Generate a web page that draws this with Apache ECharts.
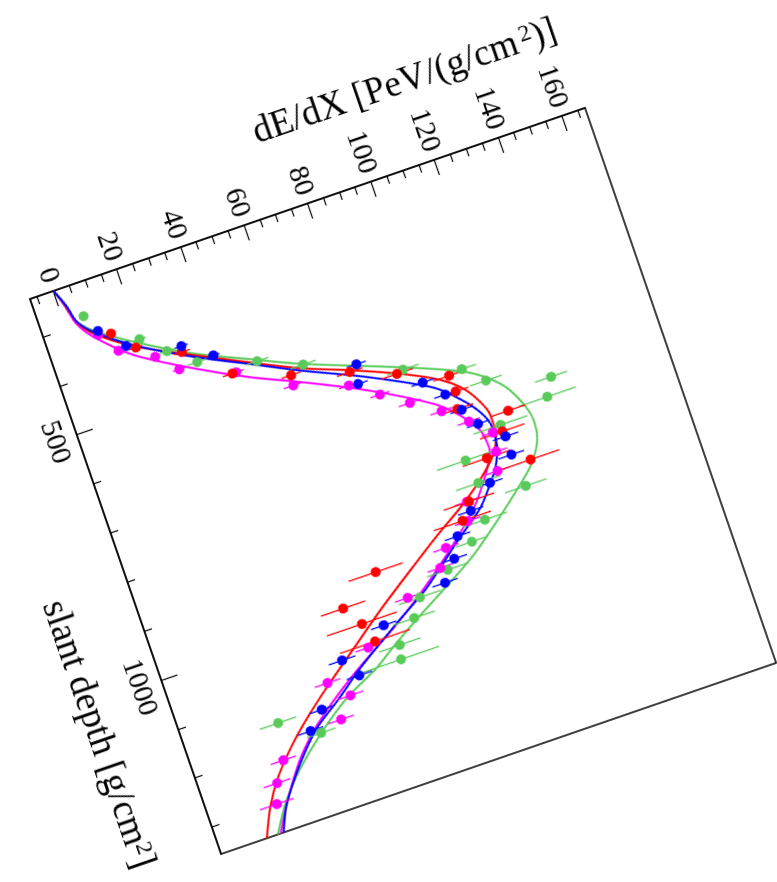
<!DOCTYPE html>
<html><head><meta charset="utf-8">
<script src="https://cdn.jsdelivr.net/npm/echarts@6/dist/echarts.min.js"></script>
<style>
html,body{margin:0;padding:0;background:#fff;overflow:hidden;width:777px;height:882px;}
#wrap{position:absolute;left:-90px;top:-348px;width:760px;height:790px;transform-origin:120px 647px;transform:rotate(71deg);}
#chart{width:760px;height:790px;}
</style></head><body>
<div id="wrap"><div id="chart"></div></div>
<script>
// ---- axis ranges & ticks ----
const xMin = 223, xMax = 1355;
const yMin = -7.4, yMax = 167.3;
const xTicksMajor = [500, 1000];
const xTicksMinor = [300, 400, 600, 700, 800, 900, 1100, 1200, 1300];
const yTicksMajor = [0, 20, 40, 60, 80, 100, 120, 140, 160];
const yTicksMinor = [-5, 5, 10, 15, 25, 30, 35, 45, 50, 55, 65, 70, 75, 85, 90, 95, 105, 110, 115, 125, 130, 135, 145, 150, 155, 165];
const xTitle = 'slant depth [g/cm';
const yTitle = 'dE/dX [PeV/(g/cm';

// ---- green ----
const greenX   = [288, 365, 404, 443, 479, 514, 586, 622, 658, 692, 726, 748, 791, 840, 875, 911, 943, 979, 1012, 1046, 1086, 1113, 1152, 1197];
const greenY   = [6.0, 19.5, 26.1, 33.5, 50.5, 63.1, 90.7, 107.3, 113.0, 131.7, 128.7, 112.8, 99.5, 100.9, 114.0, 99.2, 93.4, 83.9, 73.4, 69.8, 63.1, 62.1, 21.3, 32.5];
const greenErr = [1.5, 2, 2.5, 3, 3.5, 4, 5, 4.5, 5, 5, 9, 8.5, 9, 7, 6.5, 7, 5, 6.5, 6.6, 6.5, 6.5, 12, 5.7, 4.5];
const greenCurveX = [223, 260, 294, 320, 366, 425, 471, 511, 580, 631, 673, 716, 761, 800, 840, 880, 931, 973, 1012, 1046, 1086, 1113, 1150, 1200, 1250, 1300, 1355];
const greenCurveY = [0, 2.2, 3.6, 7.4, 17.6, 33.3, 48.7, 62.4, 90.2, 108.5, 116.8, 120.8, 122.6, 121.6, 117.5, 110.5, 100.5, 91.5, 81, 71.5, 61, 54.5, 43, 32, 23, 16, 10.5];

// ---- red ----
const redX   = [337, 378, 415, 486, 526, 557, 590, 626, 659, 692, 727, 761, 800, 830, 868, 899, 938, 984, 1024, 1064];
const redY   = [12.0, 17.7, 30.2, 42.3, 58.7, 75.5, 88.6, 103.1, 103.4, 102.2, 116.3, 112.7, 105.7, 117.9, 96.5, 92.8, 63.4, 50.7, 54.5, 56.5];
const redErr = [1.5, 2, 2.5, 3, 3, 4, 5, 5, 4, 5, 5.5, 7, 7.5, 9, 8, 9, 8.5, 7, 11, 11];
const redCurveX = [223, 260, 294, 326, 374, 428, 477, 519, 554, 592, 628, 659, 694, 725, 755, 786, 807, 841, 873, 909, 945, 1006, 1065, 1116, 1160, 1200, 1250, 1300, 1355];
const redCurveY = [0, 2, 3.5, 7.1, 17.2, 33.2, 48.4, 62, 75.8, 89.6, 100.2, 105.9, 109.4, 110.9, 110.9, 109, 106.6, 100.6, 93.6, 84.5, 76, 62, 49.5, 38.8, 30.2, 23.3, 16.2, 11, 7];

// ---- blue ----
const blueX   = [324, 369, 404, 441, 547, 584, 622, 658, 696, 732, 772, 809, 847, 886, 924, 963, 1001, 1040, 1078, 1116, 1155, 1187];
const blueY   = [8.6, 15.1, 30.6, 38.7, 78.1, 76.7, 95.0, 100.2, 103.3, 106.6, 113.1, 113.0, 104.2, 96.1, 89.9, 86.8, 81.9, 60.5, 45.4, 48.8, 34.9, 29.7];
const blueErr = [1.2, 1.5, 2, 2, 3, 3, 3.5, 3.5, 3.5, 3.5, 4, 4, 4, 4, 4, 4, 4, 4, 4.2, 4, 4, 4];
const blueCurveX = [223, 260, 294, 323, 372, 431, 480, 523, 577, 638, 676, 713, 747, 787, 822, 839, 886, 930, 968, 1000, 1048, 1102, 1148, 1184, 1224, 1272, 1310, 1355];
const blueCurveY = [0, 2.2, 3.6, 7.3, 17.2, 33, 48.3, 61.7, 79.9, 97.6, 104, 108.4, 110.2, 109.7, 107.3, 105.4, 99.2, 90, 82.5, 76, 63.5, 50.1, 40.3, 32.1, 25.8, 19.6, 15.5, 12.3];

// ---- magenta ----
const magentaX   = [331, 373, 407, 445, 486, 546, 581, 617, 651, 686, 722, 757, 794, 830, 867, 903, 938, 971, 1005, 1071, 1110, 1147, 1185, 1223, 1261, 1299];
const magentaY   = [8.2, 12.5, 22.2, 27.8, 43.5, 58.3, 73.9, 81.8, 89.4, 97.5, 104.2, 109.9, 109.0, 107.5, 95.9, 94.2, 85.5, 82.0, 69.9, 54.0, 39.1, 44.4, 39.4, 19.2, 15.2, 13.1];
const magentaErr = [1.2, 1.5, 1.5, 2, 2.5, 3, 3, 3, 3.5, 3.5, 3.5, 3.5, 3.5, 3.5, 4, 4, 4, 4, 4, 4, 4, 4, 4, 4, 4.2, 5.3];
const magentaCurveX = [223, 260, 298, 332, 390, 452, 504, 544, 601, 668, 706, 746, 782, 817, 839, 882, 926, 964, 1010, 1050, 1114, 1178, 1228, 1277, 1321, 1355];
const magentaCurveY = [0, 1.8, 3.3, 6.8, 16.3, 31.9, 47, 60.6, 78.6, 96.1, 102.4, 106.6, 107.4, 105, 102.7, 97.4, 89.8, 82.5, 72.8, 63.3, 46.5, 32.5, 24.5, 18.8, 14.4, 11.4];

const FONT = 'Liberation Serif';
const groups = [
  {name:'green',   color:'#5acb5a', x:greenX, y:greenY, e:greenErr, cx:greenCurveX, cy:greenCurveY},
  {name:'magenta', color:'#ff00ff', x:magentaX, y:magentaY, e:magentaErr, cx:magentaCurveX, cy:magentaCurveY},
  {name:'red',     color:'#ff0000', x:redX, y:redY, e:redErr, cx:redCurveX, cy:redCurveY},
  {name:'blue',    color:'#0000ff', x:blueX, y:blueY, e:blueErr, cx:blueCurveX, cy:blueCurveY}
];

function errRender(params, api){
  const x = api.value(0), y = api.value(1), e = api.value(2);
  const p1 = api.coord([x, y - e]), p2 = api.coord([x, y + e]);
  return {type:'line', shape:{x1:p1[0], y1:p1[1], x2:p2[0], y2:p2[1]},
          style:{stroke:api.visual('color'), lineWidth:1.3}};
}

const series = [];
groups.forEach(g => {
  series.push({type:'line', name:g.name+' fit', data:g.cx.map((v,i)=>[v, g.cy[i]]),
    smooth:0.3, showSymbol:false, symbol:'none', lineStyle:{color:g.color, width:2}, z:2, silent:true});
});
groups.forEach(g => {
  series.push({type:'custom', name:g.name+' err', renderItem:errRender,
    data:g.x.map((v,i)=>[v, g.y[i], g.e[i]]), encode:{x:0, y:1},
    itemStyle:{color:g.color}, z:3, silent:true});
  series.push({type:'scatter', name:g.name, data:g.x.map((v,i)=>[v, g.y[i]]),
    symbol:'circle', symbolSize:10, itemStyle:{color:g.color, opacity:1}, z:4, silent:true});
});

const axisLineStyle = {color:'#000', width:1.5};
const plainNum = v => String(v);
const option = {
  animation:false,
  backgroundColor:'#fff',
  grid:{left:120, top:60, width:587, height:587, show:true, borderColor:'#000', borderWidth:1.5, backgroundColor:'transparent'},
  xAxis:[
    {type:'value', min:xMin, max:xMax, position:'bottom', offset:0,
     axisLine:{show:true, onZero:false, lineStyle:axisLineStyle},
     axisTick:{show:true, inside:true, length:17, customValues:xTicksMajor, lineStyle:{color:'#000', width:1.2}},
     axisLabel:{show:true, customValues:xTicksMajor, formatter:plainNum, fontFamily:FONT, fontSize:29, color:'#000', margin:9},
     splitLine:{show:false}},
    {type:'value', min:xMin, max:xMax, position:'bottom', offset:0,
     axisLine:{show:true, onZero:false, lineStyle:{color:'rgba(0,0,0,0)', width:0}},
     axisTick:{show:true, inside:true, length:8, customValues:xTicksMinor, lineStyle:{color:'#000', width:1.2}},
     axisLabel:{show:false}, splitLine:{show:false}}
  ],
  yAxis:[
    {type:'value', min:yMin, max:yMax, position:'left', offset:0,
     axisLine:{show:true, onZero:false, lineStyle:axisLineStyle},
     axisTick:{show:true, inside:true, length:16, customValues:yTicksMajor, lineStyle:{color:'#000', width:1.2}},
     axisLabel:{show:true, customValues:yTicksMajor, formatter:plainNum, fontFamily:FONT, fontSize:29, color:'#000', margin:9},
     splitLine:{show:false}},
    {type:'value', min:yMin, max:yMax, position:'left', offset:0,
     axisLine:{show:true, onZero:false, lineStyle:{color:'rgba(0,0,0,0)', width:0}},
     axisTick:{show:true, inside:true, length:8, customValues:yTicksMinor, lineStyle:{color:'#000', width:1.2}},
     axisLabel:{show:false}, splitLine:{show:false}}
  ],
  graphic:[
    {type:'text', x:554, y:725, z:10,
     style:{text:'{n|'+xTitle+'}{s|2}{n|]}', align:'center', verticalAlign:'middle',
       rich:{n:{fontFamily:FONT, fontSize:37, color:'#000'}, s:{fontFamily:FONT, fontSize:24, color:'#000', verticalAlign:'top'}}}},
    {type:'text', x:37, y:222, rotation:Math.PI/2, z:10,
     style:{text:'{n|'+yTitle+'}{s|2}{n|)]}', align:'center', verticalAlign:'middle',
       rich:{n:{fontFamily:FONT, fontSize:37, color:'#000'}, s:{fontFamily:FONT, fontSize:24, color:'#000', verticalAlign:'top', padding:[0,0,0,4]}}}}
  ],
  series:series
};
const chart = echarts.init(document.getElementById('chart'), null, {renderer:'canvas'});
chart.setOption(option);
</script>
</body></html>
